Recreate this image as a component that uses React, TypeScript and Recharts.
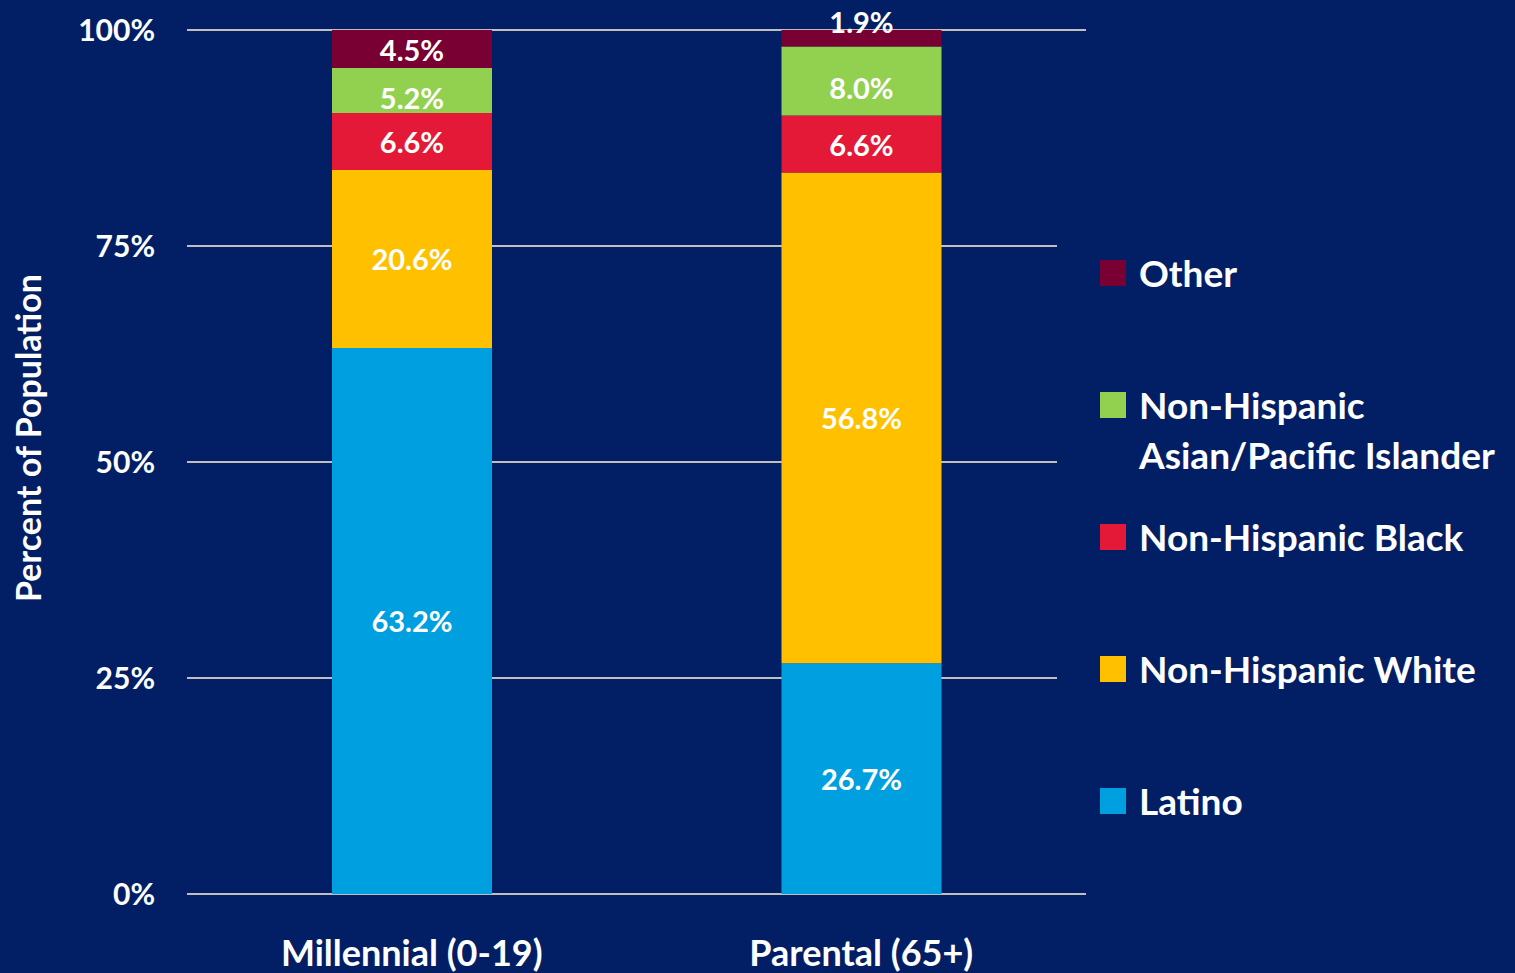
import { BarChart, Bar, XAxis, YAxis, CartesianGrid, Legend, LabelList } from "recharts";

const categories = ["Millennial (0-19)", "Parental (65+)"];
const latino = [63.2, 26.7];
const white = [20.6, 56.8];
const black = [6.6, 6.6];
const asian = [5.2, 8.0];
const other = [4.5, 1.9];
const yTicks = [0, 25, 50, 75, 100];

const series = [
  { key: "latino", name: "Latino", color: "#009FDF", values: latino, shift: 0 },
  { key: "white", name: "Non-Hispanic White", color: "#FFC000", values: white, shift: 0 },
  { key: "black", name: "Non-Hispanic Black", color: "#E31937", values: black, shift: 0 },
  { key: "asian", name: "Non-Hispanic\nAsian/Pacific Islander", color: "#92D050", values: asian, shift: 7 },
  { key: "other", name: "Other", color: "#780032", values: other, shift: 0 },
];

const data = categories.map((c, i) => {
  const row: any = { category: c };
  series.forEach((s) => (row[s.key] = s.values[i]));
  return row;
});

const BG = "#021F66";
const FONT = "Lato, 'Open Sans', sans-serif";

if (typeof document !== "undefined") {
  document.body.style.margin = "0";
  document.body.style.background = BG;
}

const SegmentLabel = (props: any) => {
  const { x, y, width, height, value, shift = 0 } = props;
  // thin segments get their label pushed above the bar
  const cy = height < 20 ? y - 9 : y + height / 2 + shift;
  return (
    <text
      x={x + width / 2}
      y={cy}
      textAnchor="middle"
      dominantBaseline="central"
      fill="#fff"
      fontSize={29}
      fontWeight={700}
      fontFamily={FONT}
    >
      {`${Number(value).toFixed(1)}%`}
    </text>
  );
};

const YLabel = (props: any) => {
  const vb = props.viewBox || {};
  const cx = 27;
  const cy = vb.y + vb.height / 2 - 24;
  return (
    <text
      x={cx}
      y={cy}
      transform={`rotate(-90 ${cx} ${cy})`}
      textAnchor="middle"
      dominantBaseline="central"
      fill="#fff"
      fontSize={34}
      fontWeight={700}
      fontFamily={FONT}
    >
      Percent of Population
    </text>
  );
};

const renderLegend = () => (
  <div style={{ background: BG, width: 458, height: 620, fontFamily: FONT }}>
    {[...series].reverse().map((s) => (
      <div key={s.key} style={{ position: "relative", height: 132 }}>
        <span
          style={{ position: "absolute", left: 43, top: 24, width: 26, height: 26, background: s.color }}
        />
        <span
          style={{
            position: "absolute",
            left: 82,
            top: 12,
            whiteSpace: "pre",
            lineHeight: "50px",
            fontSize: 37,
            fontWeight: 700,
            color: "#fff",
          }}
        >
          {s.name}
        </span>
      </div>
    ))}
  </div>
);

const App = () => {
  return (
    <div style={{ width: 1515, height: 973, background: BG }}>
      <BarChart
        width={1515}
        height={973}
        data={data}
        margin={{ top: 30, right: 429, left: 0, bottom: 0 }}
        barCategoryGap="0%"
      >
        <CartesianGrid vertical={false} stroke="#BFBFBF" strokeWidth={2} />
        <XAxis
          dataKey="category"
          height={79}
          axisLine={false}
          tickLine={false}
          tickMargin={40}
          tick={{ fill: "#fff", fontSize: 36, fontWeight: 700, fontFamily: FONT }}
        />
        <YAxis
          width={187}
          domain={[0, 100]}
          ticks={yTicks}
          allowDataOverflow
          axisLine={false}
          tickLine={false}
          tickMargin={26}
          tickFormatter={(v) => `${v}%`}
          tick={{ fill: "#fff", fontSize: 30, fontWeight: 700, fontFamily: FONT }}
          label={<YLabel />}
        />
        <Legend
          layout="vertical"
          align="center"
          verticalAlign="middle"
          wrapperStyle={{ left: 1057, top: 236, width: 458, height: 620 }}
          content={renderLegend}
        />
        {series.map((s) => (
          <Bar
            key={s.key}
            dataKey={s.key}
            name={s.name}
            stackId="a"
            fill={s.color}
            barSize={160}
            isAnimationActive={false}
          >
            <LabelList dataKey={s.key} content={<SegmentLabel shift={s.shift} />} />
          </Bar>
        ))}
      </BarChart>
    </div>
  );
};

export default App;
